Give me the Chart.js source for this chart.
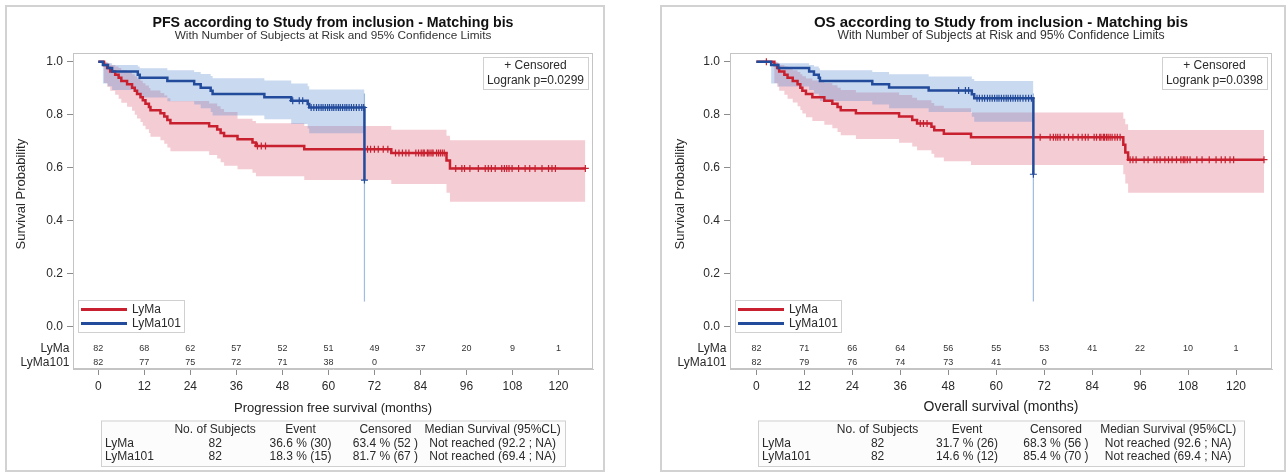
<!DOCTYPE html>
<html>
<head>
<meta charset="utf-8">
<title>PFS / OS according to Study from inclusion</title>
<script src="https://cdn.jsdelivr.net/npm/chart.js@4.4.1/dist/chart.umd.min.js"></script>
<style>
  html, body { margin: 0; padding: 0; background: #fff; }
  .frame { position: absolute; top: 5px; height: 467px; box-sizing: border-box;
           border: 2px solid #d2d2d2; pointer-events: none; }
  canvas { position: absolute; top: 5px; display: block; }
  #pfs { left: 5px; }
  #os { left: 660px; }
  #f1 { left: 5px; width: 600px; }
  #f2 { left: 660px; width: 626px; }
</style>
</head>
<body>
<canvas id="pfs" width="600" height="467"></canvas>
<canvas id="os" width="626" height="467"></canvas>
<div class="frame" id="f1"></div>
<div class="frame" id="f2"></div>
<script>
// axis ticks and groups
const X_TICKS = [0, 12, 24, 36, 48, 60, 72, 84, 96, 108, 120];
const Y_TICKS = [0, 0.2, 0.4, 0.6, 0.8, 1.0];
const GROUPS = ["LyMa", "LyMa101"];

// PFS, LyMa : step times, survival, 95% limits, censoring times
const PFS_LYMA_T = [0, 1.5, 2.3, 3.1, 4.4, 5.3, 6.0, 7.5, 8.8, 9.5, 10.1, 11.0, 11.6, 12.3, 13.2, 13.6, 16.2, 17.2, 18.0, 18.8, 28.9, 31.0, 31.9, 32.8, 36.3, 40.2, 41.1, 53.7, 76.4, 90.8, 91.7];
const PFS_LYMA_S = [1, 0.988, 0.976, 0.963, 0.951, 0.939, 0.927, 0.915, 0.902, 0.890, 0.878, 0.866, 0.854, 0.841, 0.829, 0.817, 0.805, 0.793, 0.780, 0.768, 0.756, 0.744, 0.731, 0.719, 0.707, 0.695, 0.682, 0.669, 0.655, 0.627, 0.597];
const PFS_LYMA_LO = [1, 0.92, 0.905, 0.89, 0.875, 0.86, 0.845, 0.83, 0.815, 0.80, 0.786, 0.772, 0.758, 0.745, 0.731, 0.717, 0.703, 0.69, 0.676, 0.662, 0.648, 0.634, 0.62, 0.607, 0.594, 0.581, 0.567, 0.553, 0.538, 0.505, 0.471];
const PFS_LYMA_HI = [1, 0.997, 0.993, 0.988, 0.982, 0.976, 0.969, 0.962, 0.953, 0.945, 0.937, 0.928, 0.919, 0.910, 0.901, 0.891, 0.882, 0.872, 0.862, 0.852, 0.842, 0.832, 0.821, 0.81, 0.785, 0.776, 0.768, 0.757, 0.743, 0.72, 0.703];
const PFS_LYMA_CENS = [41.5, 42.5, 43.6, 70.2, 71.0, 72.0, 73.0, 74.3, 75.5, 77.5, 78.4, 79.3, 80.2, 81.0, 82.8, 83.5, 84.2, 84.7, 85.0, 85.8, 86.0, 86.5, 87.0, 87.3, 88.2, 88.7, 89.2, 89.7, 90.2, 93.2, 94.8, 95.5, 96.9, 99.1, 100.9, 101.7, 102.5, 103.5, 105.2, 105.9, 106.5, 107.1, 107.9, 109.6, 111.3, 112.5, 113.9, 115.7, 117.4, 118.3, 119.2, 127.0];

// PFS, LyMa101
const PFS_L101_T = [0, 1.2, 2.5, 3.6, 10.3, 10.8, 18.0, 25.0, 26.7, 29.3, 29.8, 43.3, 50.3, 54.6, 55.0, 69.4];
const PFS_L101_S = [1, 0.988, 0.976, 0.963, 0.951, 0.939, 0.927, 0.915, 0.902, 0.890, 0.878, 0.866, 0.853, 0.840, 0.827, 0.553];
const PFS_L101_LO = [1, 0.918, 0.907, 0.893, 0.879, 0.865, 0.851, 0.838, 0.824, 0.810, 0.797, 0.783, 0.765, 0.748, 0.73, 0.094];
const PFS_L101_HI = [1, 0.998, 0.994, 0.988, 0.982, 0.975, 0.968, 0.961, 0.954, 0.946, 0.938, 0.929, 0.918, 0.907, 0.895, 0.88];
const PFS_L101_CENS = [50.7, 52.4, 53.3, 55.5, 56.2, 56.9, 57.5, 58.1, 58.6, 59.2, 59.8, 60.3, 60.9, 61.4, 62.0, 62.6, 63.1, 63.7, 64.3, 64.8, 65.4, 66.0, 66.6, 67.3, 68.0, 68.7, 69.2, 69.4];

// OS, LyMa
const OS_LYMA_T = [0, 4.5, 5.2, 5.7, 7.0, 7.8, 9.1, 10.3, 11.0, 11.5, 12.4, 14.0, 17.0, 19.0, 20.3, 21.1, 24.9, 35.7, 39.0, 40.2, 43.8, 44.5, 46.9, 53.7, 91.8, 92.3, 93.0];
const OS_LYMA_S = [1, 0.988, 0.976, 0.963, 0.951, 0.939, 0.927, 0.915, 0.902, 0.890, 0.878, 0.866, 0.853, 0.841, 0.829, 0.817, 0.805, 0.793, 0.780, 0.767, 0.754, 0.741, 0.728, 0.715, 0.686, 0.657, 0.630];
const OS_LYMA_LO = [1, 0.92, 0.905, 0.89, 0.875, 0.86, 0.846, 0.832, 0.818, 0.804, 0.79, 0.776, 0.762, 0.749, 0.735, 0.722, 0.708, 0.694, 0.68, 0.666, 0.652, 0.638, 0.624, 0.61, 0.575, 0.54, 0.505];
const OS_LYMA_HI = [1, 0.998, 0.994, 0.988, 0.982, 0.975, 0.968, 0.961, 0.953, 0.945, 0.937, 0.929, 0.92, 0.911, 0.902, 0.893, 0.884, 0.874, 0.864, 0.854, 0.844, 0.834, 0.824, 0.808, 0.785, 0.764, 0.742];
const OS_LYMA_CENS = [2.5, 41.0, 41.8, 42.7, 71.0, 73.5, 74.3, 74.9, 75.4, 76.0, 77.0, 78.1, 79.2, 80.5, 81.5, 82.3, 83.0, 84.5, 85.1, 85.9, 86.2, 86.8, 87.1, 87.6, 88.0, 88.5, 89.0, 89.7, 90.3, 91.0, 93.5, 94.2, 95.0, 97.0, 98.0, 99.5, 100.2, 101.0, 102.2, 103.1, 104.0, 105.1, 106.2, 106.8, 107.2, 107.8, 108.5, 110.2, 111.5, 113.3, 115.0, 116.3, 117.3, 118.5, 119.4, 127.0];

// OS, LyMa101
const OS_L101_T = [0, 3.7, 5.5, 13.2, 14.4, 15.6, 15.9, 29.0, 33.2, 43.1, 53.9, 54.5, 69.3];
const OS_L101_S = [1, 0.988, 0.976, 0.963, 0.951, 0.939, 0.927, 0.915, 0.903, 0.891, 0.877, 0.862, 0.575];
const OS_L101_LO = [1, 0.918, 0.906, 0.893, 0.879, 0.866, 0.852, 0.838, 0.824, 0.81, 0.792, 0.773, 0.094];
const OS_L101_HI = [1, 0.998, 0.994, 0.988, 0.982, 0.975, 0.968, 0.961, 0.953, 0.944, 0.935, 0.927, 0.88];
const OS_L101_CENS = [50.6, 52.3, 53.1, 55.2, 55.8, 56.5, 57.1, 57.8, 58.4, 59.0, 59.6, 60.2, 60.7, 61.3, 61.9, 62.5, 63.0, 63.6, 64.2, 64.8, 65.4, 66.0, 66.7, 67.4, 68.1, 68.8, 69.3];

// number of subjects at risk at each x tick
const PFS_RISK_LYMA = [82, 68, 62, 57, 52, 51, 49, 37, 20, 9, 1];
const PFS_RISK_L101 = [82, 77, 75, 72, 71, 38, 0];
const OS_RISK_LYMA = [82, 71, 66, 64, 56, 55, 53, 41, 22, 10, 1];
const OS_RISK_L101 = [82, 79, 76, 74, 73, 41, 0];

// summary tables
const TABLE_HEAD = ["No. of Subjects", "Event", "Censored", "Median Survival (95%CL)"];
const PFS_TABLE_LYMA = ["82", "36.6 % (30)", "63.4 % (52 )", "Not reached (92.2 ; NA)"];
const PFS_TABLE_L101 = ["82", "18.3 % (15)", "81.7 % (67 )", "Not reached (69.4 ; NA)"];
const OS_TABLE_LYMA = ["82", "31.7 % (26)", "68.3 % (56 )", "Not reached (92.6 ; NA)"];
const OS_TABLE_L101 = ["82", "14.6 % (12)", "85.4 % (70 )", "Not reached (69.4 ; NA)"];

const FONT = '"Liberation Sans", Arial, sans-serif';
const RED = "#c8202f";
const BLUE = "#234b9b";
const RED_BAND = "rgba(222, 100, 125, 0.33)";
const BLUE_BAND = "rgba(90, 140, 210, 0.33)";
const BLUE_CI_LINE = "rgba(120, 160, 215, 0.7)";
const TEXT = "#2a2a2a";

// axis range (room for the at-risk rows below 0.0)
const X_MIN = -6.6, X_MAX = 129;
const Y_MIN = -0.1605, Y_MAX = 1.0329;

function stepData(T, V, end) {
  const pts = T.map((t, i) => ({ x: t, y: V[i] }));
  if (end > T[T.length - 1]) pts.push({ x: end, y: V[V.length - 1] });
  return pts;
}

function survAt(T, S, t) {
  let v = S[0];
  T.forEach((ti, i) => { if (ti <= t) v = S[i]; });
  return v;
}

function groupDatasets(g, base) {
  const last = g.t.length - 1;
  const end = Math.max(g.t[last], ...g.cens);
  const sets = [
    { data: stepData(g.t, g.hi, end), fill: "+1", backgroundColor: g.band, borderWidth: 0,
      pointRadius: 0, stepped: true, order: base + 4 },
    { data: stepData(g.t, g.lo, end), fill: false, borderWidth: 0, pointRadius: 0,
      stepped: true, order: base + 4 },
    { data: stepData(g.t, g.s, end), borderColor: g.color, borderWidth: 2.5, pointRadius: 0,
      stepped: true, fill: false, order: base + 1 },
    { data: g.cens.map((c) => ({ x: c, y: survAt(g.t, g.s, c) })), showLine: false,
      pointStyle: "cross", pointRadius: 3.5, borderColor: g.color, borderWidth: 1.2,
      fill: false, order: base + 0.5 },
  ];
  if (end === g.t[last]) {
    // curve ends on an event: the limits shrink to a vertical segment
    sets.push({ data: [{ x: g.t[last], y: g.lo[last] }, { x: g.t[last], y: g.hi[last] }],
      borderColor: g.ciLine, borderWidth: 1.2, pointRadius: 0, fill: false, order: base + 2 });
  }
  return sets;
}

const extras = {
  id: "extras",
  beforeDatasetsDraw(chart) {
    const { ctx, chartArea: a } = chart;
    ctx.save();
    ctx.strokeStyle = "#c4c4c4";
    ctx.lineWidth = 1;
    ctx.strokeRect(a.left + 0.5, a.top + 0.5, a.width - 1, a.height - 1);
    ctx.restore();
  },
  afterDraw(chart, args, opt) {
    const { ctx, chartArea: a, scales: { x, y } } = chart;
    const cx = (a.left + a.right) / 2;
    const y0 = y.getPixelForValue(0);
    const y1 = y.getPixelForValue(1);
    ctx.save();
    ctx.textAlign = "center";
    ctx.textBaseline = "middle";

    // titles
    ctx.fillStyle = "#111";
    ctx.font = `bold ${opt.titleSize}px ${FONT}`;
    ctx.fillText(opt.title, cx, 18);
    ctx.fillStyle = "#333";
    ctx.font = `${opt.subSize}px ${FONT}`;
    ctx.fillText("With Number of Subjects at Risk and 95% Confidence Limits", cx, 31);

    // y title, centred on the 0..1 range
    ctx.save();
    ctx.translate(a.left + opt.yTitleDx, (y0 + y1) / 2);
    ctx.rotate(-Math.PI / 2);
    ctx.font = `13px ${FONT}`;
    ctx.fillStyle = TEXT;
    ctx.fillText("Survival Probability", 0, 0);
    ctx.restore();

    // censored / logrank box
    ctx.font = `12px ${FONT}`;
    const lines = ["+ Censored", opt.logrank];
    const bw = Math.max(...lines.map((l) => ctx.measureText(l).width)) + 8;
    const bx = a.right - 5 - bw, by = a.top + 4;
    ctx.fillStyle = "#fff";
    ctx.fillRect(bx, by, bw, 32);
    ctx.strokeStyle = "#d0d0d0";
    ctx.lineWidth = 1;
    ctx.strokeRect(Math.round(bx) + 0.5, by + 0.5, Math.round(bw), 32);
    ctx.fillStyle = TEXT;
    ctx.fillText(lines[0], bx + bw / 2, by + 9);
    ctx.fillText(lines[1], bx + bw / 2, by + 24);

    // legend
    const lx = a.left + 5, ly = Math.round(y0 - 26.5);
    ctx.fillStyle = "#fff";
    ctx.fillRect(lx, ly, 106, 32);
    ctx.strokeStyle = "#d0d0d0";
    ctx.strokeRect(lx + 0.5, ly + 0.5, 106, 32);
    ctx.textAlign = "left";
    GROUPS.forEach((g, i) => {
      const yy = ly + 9.5 + 14 * i;
      ctx.strokeStyle = i === 0 ? RED : BLUE;
      ctx.lineWidth = 3;
      ctx.beginPath();
      ctx.moveTo(lx + 3, yy);
      ctx.lineTo(lx + 49, yy);
      ctx.stroke();
      ctx.fillStyle = TEXT;
      ctx.fillText(g, lx + 54, yy);
    });

    // number at risk
    GROUPS.forEach((g, i) => {
      const ry = y0 + 22.5 + 13.7 * i;
      ctx.textAlign = "right";
      ctx.font = `12px ${FONT}`;
      ctx.fillStyle = TEXT;
      ctx.fillText(g, a.left - 3.5, ry);
      ctx.textAlign = "center";
      ctx.font = `9px ${FONT}`;
      ctx.fillStyle = "#333";
      opt.risk[i].forEach((n, j) => ctx.fillText(String(n), x.getPixelForValue(X_TICKS[j]), ry));
    });

    // summary table
    const tl = a.left + 28, tr = a.right - 28, tt = a.bottom + 51.5, tb = a.bottom + 97;
    ctx.fillStyle = "#fcfcfc";
    ctx.fillRect(tl, tt, tr - tl, tb - tt);
    ctx.strokeStyle = "#d0d0d0";
    ctx.lineWidth = 1;
    ctx.strokeRect(tl + 0.5, tt + 0.5, tr - tl, tb - tt);
    const cols = [0.246, 0.43, 0.613, 0.844].map((f) => tl + f * (tr - tl));
    const rowsY = [a.bottom + 61, a.bottom + 74.5, a.bottom + 88];
    ctx.font = `12px ${FONT}`;
    ctx.fillStyle = TEXT;
    ctx.textAlign = "center";
    TABLE_HEAD.forEach((h, j) => ctx.fillText(h, cols[j], rowsY[0]));
    opt.table.forEach((row, i) => {
      ctx.textAlign = "left";
      ctx.fillText(GROUPS[i], tl + 4, rowsY[i + 1]);
      ctx.textAlign = "center";
      row.forEach((v, j) => ctx.fillText(v, cols[j], rowsY[i + 1]));
    });
    ctx.restore();
  },
};

function makeChart(id, cfg) {
  const datasets = [
    ...groupDatasets({ t: cfg.lyma[0], s: cfg.lyma[1], lo: cfg.lyma[2], hi: cfg.lyma[3], cens: cfg.lyma[4],
      color: RED, band: RED_BAND, ciLine: RED_BAND }, 2),
    ...groupDatasets({ t: cfg.l101[0], s: cfg.l101[1], lo: cfg.l101[2], hi: cfg.l101[3], cens: cfg.l101[4],
      color: BLUE, band: BLUE_BAND, ciLine: BLUE_CI_LINE }, 0),
  ];
  const tickFont = { family: FONT, size: 12 };
  new Chart(document.getElementById(id), {
    type: "line",
    data: { datasets },
    plugins: [extras],
    options: {
      responsive: false,
      animation: false,
      events: [],
      layout: { padding: { top: 48, right: cfg.padRight, bottom: 53, left: 0 } },
      plugins: {
        legend: { display: false },
        tooltip: { enabled: false },
        extras: { title: cfg.title, logrank: cfg.logrank, risk: cfg.risk, table: cfg.table,
                  yTitleDx: cfg.yTitleDx, titleSize: cfg.titleSize, subSize: cfg.subSize },
      },
      scales: {
        x: {
          type: "linear",
          min: X_MIN,
          max: X_MAX,
          afterBuildTicks: (s) => { s.ticks = X_TICKS.map((v) => ({ value: v })); },
          afterFit: (s) => { s.height = 50; },
          ticks: { autoSkip: false, maxRotation: 0, padding: 4, color: TEXT, font: tickFont },
          grid: { drawOnChartArea: false, drawTicks: true, tickLength: 6, color: "#8c8c8c" },
          border: { display: true, color: "#c4c4c4" },
          title: { display: true, text: cfg.xTitle, color: "#222", font: { family: FONT, size: cfg.xTitleSize },
                   padding: { top: 0, bottom: 3 } },
        },
        y: {
          type: "linear",
          min: Y_MIN,
          max: Y_MAX,
          afterBuildTicks: (s) => { s.ticks = Y_TICKS.map((v) => ({ value: v })); },
          afterFit: (s) => { s.width = cfg.yWidth; },
          ticks: { padding: 4, color: TEXT, font: tickFont, callback: (v) => Number(v).toFixed(1) },
          grid: { drawOnChartArea: false, drawTicks: true, tickLength: 6, color: "#8c8c8c" },
          border: { display: true, color: "#c4c4c4" },
        },
      },
    },
  });
}

makeChart("pfs", {
  title: "PFS according to Study from inclusion - Matching bis",
  xTitle: "Progression free survival (months)",
  logrank: "Logrank p=0.0299",
  lyma: [PFS_LYMA_T, PFS_LYMA_S, PFS_LYMA_LO, PFS_LYMA_HI, PFS_LYMA_CENS],
  l101: [PFS_L101_T, PFS_L101_S, PFS_L101_LO, PFS_L101_HI, PFS_L101_CENS],
  risk: [PFS_RISK_LYMA, PFS_RISK_L101],
  table: [PFS_TABLE_LYMA, PFS_TABLE_L101],
  yWidth: 68,
  padRight: 12,
  yTitleDx: -52,
  titleSize: 14.2,
  subSize: 11.8,
  xTitleSize: 13,
});

makeChart("os", {
  title: "OS according to Study from inclusion - Matching bis",
  xTitle: "Overall survival (months)",
  logrank: "Logrank p=0.0398",
  lyma: [OS_LYMA_T, OS_LYMA_S, OS_LYMA_LO, OS_LYMA_HI, OS_LYMA_CENS],
  l101: [OS_L101_T, OS_L101_S, OS_L101_LO, OS_L101_HI, OS_L101_CENS],
  risk: [OS_RISK_LYMA, OS_RISK_L101],
  table: [OS_TABLE_LYMA, OS_TABLE_L101],
  yWidth: 70,
  padRight: 14,
  yTitleDx: -50,
  titleSize: 15,
  subSize: 12.2,
  xTitleSize: 14,
});
</script>
</body>
</html>
